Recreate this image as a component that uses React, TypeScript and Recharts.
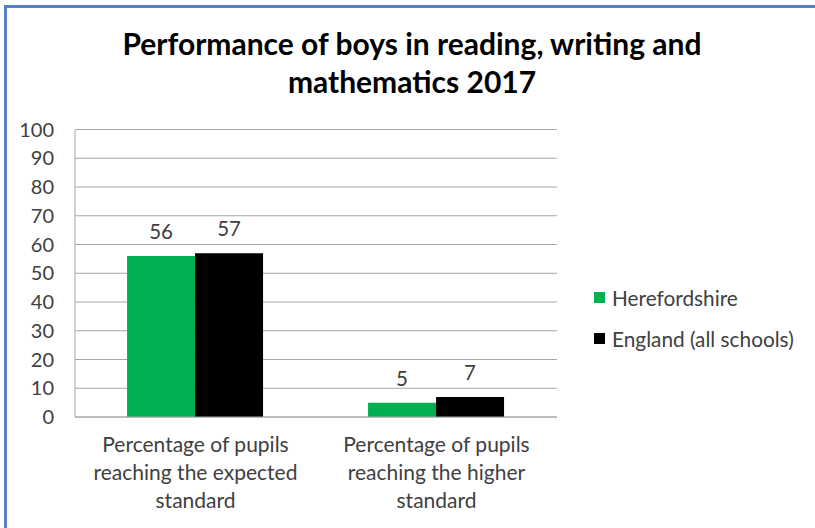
import React from 'react';
import { BarChart, Bar, XAxis, YAxis, CartesianGrid, Legend, LabelList } from 'recharts';

const categories: string[][] = [
  ['Percentage of pupils', 'reaching the expected', 'standard'],
  ['Percentage of pupils', 'reaching the higher', 'standard'],
];
const herefordshire = [56, 5];
const england = [57, 7];
const yTicks = [0, 10, 20, 30, 40, 50, 60, 70, 80, 90, 100];
const seriesNames = ['Herefordshire', 'England (all schools)'];
const seriesColors = ['#00B050', '#000000'];
const titleLines = ['Performance of boys in reading, writing and', 'mathematics 2017'];

const data = categories.map((c, i) => ({
  name: c.join('|'),
  h: herefordshire[i],
  e: england[i],
}));

const FONT = 'Lato, "Noto Sans", sans-serif';
const TEXT = '#404040';

const CatTick = (props: any) => {
  const { x, y, payload } = props;
  const lines = String(payload.value).split('|');
  return (
    <g>
      {lines.map((l, i) => (
        <text key={i} x={x} y={y + 27 + i * 28} textAnchor="middle" fill={TEXT} fontSize={21} fontFamily={FONT}>
          {l}
        </text>
      ))}
    </g>
  );
};

const LegendContent = () => (
  <div style={{ fontFamily: FONT, fontSize: 20.8, color: TEXT }}>
    {seriesNames.map((n, i) => (
      <div key={n} style={{ display: 'flex', alignItems: 'center', height: 41 }}>
        <span style={{ width: 11, height: 11, background: seriesColors[i], display: 'inline-block', marginRight: 7 }} />
        <span>{n}</span>
      </div>
    ))}
  </div>
);

export default function App() {
  return (
    <div style={{ position: 'absolute', left: 0, top: 0, width: 815, height: 528, background: '#fff' }}>
      <div style={{ position: 'absolute', left: 4, top: 5, right: 0, bottom: 0, borderTop: '3px solid #5483C3', borderLeft: '3px solid #5483C3' }} />
      <div style={{ position: 'absolute', left: 0, top: 0 }}>
        <BarChart
          width={815}
          height={528}
          data={data}
          margin={{ top: 129.5, right: 258, bottom: 81, left: 0 }}
          barGap={0}
          barCategoryGap="21.6%"
        >
          <text x={412} y={55} textAnchor="middle" fontFamily={FONT} fontWeight="bold" fontSize={30} fill="#000">
            {titleLines[0]}
          </text>
          <text x={412} y={93} textAnchor="middle" fontFamily={FONT} fontWeight="bold" fontSize={30} fill="#000">
            {titleLines[1]}
          </text>
          <CartesianGrid vertical={false} stroke="#A6A6A6" />
          <XAxis dataKey="name" height={30} tick={<CatTick />} tickLine={false} axisLine={{ stroke: '#A6A6A6' }} interval={0} />
          <YAxis
            width={75}
            domain={[0, 100]}
            ticks={yTicks}
            interval={0}
            tickLine={false}
            tickMargin={15}
            axisLine={{ stroke: '#A6A6A6' }}
            tick={{ fill: TEXT, fontSize: 20, fontFamily: FONT }}
          />
          <Legend
            layout="vertical"
            verticalAlign="middle"
            align="center"
            content={<LegendContent />}
            wrapperStyle={{ position: 'absolute', left: 594, top: 277, width: 220 }}
          />
          <Bar dataKey="h" name={seriesNames[0]} fill={seriesColors[0]} isAnimationActive={false}>
            <LabelList dataKey="h" position="top" offset={17} fill={TEXT} fontSize={20.5} fontFamily={FONT} />
          </Bar>
          <Bar dataKey="e" name={seriesNames[1]} fill={seriesColors[1]} isAnimationActive={false}>
            <LabelList dataKey="e" position="top" offset={17} fill={TEXT} fontSize={20.5} fontFamily={FONT} />
          </Bar>
        </BarChart>
      </div>
    </div>
  );
}
